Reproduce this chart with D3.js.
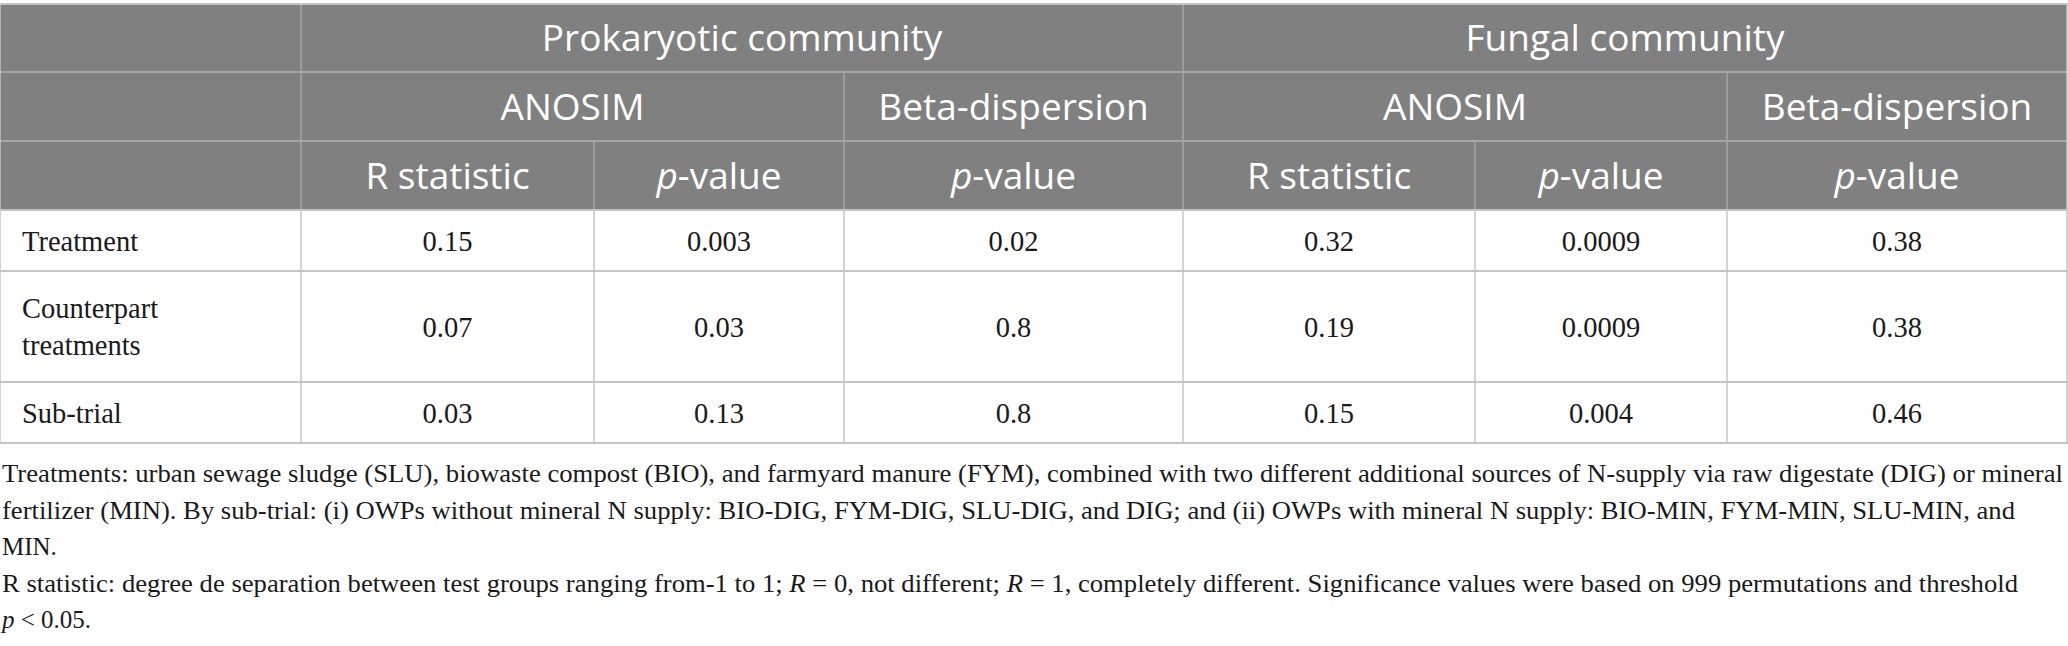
<!DOCTYPE html>
<html>
<head>
<meta charset="utf-8">
<title>ANOSIM and beta-dispersion table</title>
<script src="https://d3js.org/d3.v7.min.js"></script>
<style>
    body { margin: 0; background: #fff; }
    .head { font-family: "Open Sans", sans-serif; fill: #fff; font-size: 37px; }
    .cell { font-family: "Liberation Serif", serif; fill: #1a1a1a; font-size: 28.5px; }
    .note { font-family: "Liberation Serif", serif; fill: #1a1a1a; font-size: 25px; }
</style>
</head>
<body>
<div id="chart"></div>
<script>
    // Table content
    const groups = ["Prokaryotic community", "Fungal community"];
    const methods = ["ANOSIM", "Beta-dispersion", "ANOSIM", "Beta-dispersion"];
    const columns = ["R statistic", "p-value", "p-value", "R statistic", "p-value", "p-value"];
    const rowLabels = [["Treatment"], ["Counterpart", "treatments"], ["Sub-trial"]];
    const prokR = ["0.15", "0.07", "0.03"];
    const prokAnosimP = ["0.003", "0.03", "0.13"];
    const prokBetaP = ["0.02", "0.8", "0.8"];
    const fungR = ["0.32", "0.19", "0.15"];
    const fungAnosimP = ["0.0009", "0.0009", "0.004"];
    const fungBetaP = ["0.38", "0.38", "0.46"];
    const notes = [
        [["Treatments: urban sewage sludge (SLU), biowaste compost (BIO), and farmyard manure (FYM), combined with two different additional sources of N-supply via raw digestate (DIG) or mineral", false]],
        [["fertilizer (MIN). By sub-trial: (i) OWPs without mineral N supply: BIO-DIG, FYM-DIG, SLU-DIG, and DIG; and (ii) OWPs with mineral N supply: BIO-MIN, FYM-MIN, SLU-MIN, and", false]],
        [["MIN.", false]],
        [["R statistic: degree de separation between test groups ranging from-1 to 1; ", false], ["R", true], [" = 0, not different; ", false], ["R", true], [" = 1, completely different. Significance values were based on 999 permutations and threshold", false]],
        [["p", true], [" < 0.05.", false]]
    ];

    const values = [prokR, prokAnosimP, prokBetaP, fungR, fungAnosimP, fungBetaP];

    // Layout
    const W = 2068, H = 646;
    const colEdges = [0, 301, 594, 844, 1183, 1475, 1727, 2067];
    const rowEdges = [4, 72, 141, 210, 271, 382, 443];
    const noteLengths = [2061, 2013, null, 2016, null];

    const x = d3.scaleOrdinal().domain(d3.range(colEdges.length)).range(colEdges);
    const y = d3.scaleOrdinal().domain(d3.range(rowEdges.length)).range(rowEdges);
    const noteY = d3.scaleLinear().domain([0, 1]).range([482, 518.5]);

    const svg = d3.select("#chart").append("svg")
        .attr("width", W).attr("height", H);

    // Header background
    svg.append("rect")
        .attr("x", x(0)).attr("y", y(0))
        .attr("width", x(7) - x(0)).attr("height", y(3) - y(0))
        .attr("fill", "#808080");

    // Header lines
    const headV = [[1, 0, 3], [4, 0, 3], [2, 2, 3], [3, 1, 3], [5, 2, 3], [6, 1, 3]];
    svg.selectAll(".hv").data(headV).enter().append("line")
        .attr("x1", d => x(d[0])).attr("x2", d => x(d[0]))
        .attr("y1", d => y(d[1])).attr("y2", d => y(d[2]))
        .attr("stroke", "#a6a6a6").attr("stroke-width", 1.5);
    svg.selectAll(".hh").data([1, 2]).enter().append("line")
        .attr("x1", x(0)).attr("x2", x(7))
        .attr("y1", d => y(d)).attr("y2", d => y(d))
        .attr("stroke", "#a6a6a6").attr("stroke-width", 2);

    // Body lines
    svg.selectAll(".bv").data(d3.range(8)).enter().append("line")
        .attr("x1", d => x(d)).attr("x2", d => x(d))
        .attr("y1", y(3)).attr("y2", y(6))
        .attr("stroke", "#c4c4c4").attr("stroke-width", 1.5);
    svg.selectAll(".bh").data([0, 3, 4, 5, 6]).enter().append("line")
        .attr("x1", x(0) - 1).attr("x2", x(7) + 1)
        .attr("y1", d => y(d)).attr("y2", d => y(d))
        .attr("stroke", "#c4c4c4").attr("stroke-width", 2);
    svg.selectAll(".ov").data([0, 7]).enter().append("line")
        .attr("x1", d => x(d)).attr("x2", d => x(d))
        .attr("y1", y(0)).attr("y2", y(3))
        .attr("stroke", "#c4c4c4").attr("stroke-width", 1.5);

    const mid = (a, b) => (a + b) / 2;

    // Header texts
    svg.selectAll(".grp").data(groups).enter().append("text")
        .attr("class", "head").attr("text-anchor", "middle")
        .attr("x", (d, i) => mid(x(1 + i * 3), x(4 + i * 3)))
        .attr("y", mid(y(0), y(1)) + 13)
        .text(d => d);

    const methodSpan = [[1, 3], [3, 4], [4, 6], [6, 7]];
    svg.selectAll(".meth").data(methods).enter().append("text")
        .attr("class", "head").attr("text-anchor", "middle")
        .attr("x", (d, i) => mid(x(methodSpan[i][0]), x(methodSpan[i][1])))
        .attr("y", mid(y(1), y(2)) + 13)
        .text(d => d);

    const colText = svg.selectAll(".col").data(columns).enter().append("text")
        .attr("class", "head").attr("text-anchor", "middle")
        .attr("x", (d, i) => mid(x(i + 1), x(i + 2)))
        .attr("y", mid(y(2), y(3)) + 13);
    colText.each(function(d) {
        const t = d3.select(this);
        if (d.startsWith("p-")) {
            t.append("tspan").attr("font-style", "italic").text("p");
            t.append("tspan").text(d.slice(1));
        } else {
            t.text(d);
        }
    });

    // Row labels
    rowLabels.forEach((lines, r) => {
        const cy = mid(y(r + 3), y(r + 4));
        const t = svg.append("text").attr("class", "cell").attr("x", 22);
        lines.forEach((s, k) => {
            t.append("tspan").attr("x", 22)
                .attr("y", cy + 10 + (k - (lines.length - 1) / 2) * 37)
                .text(s);
        });
    });

    // Values
    values.forEach((col, c) => {
        svg.selectAll(".v" + c).data(col).enter().append("text")
            .attr("class", "cell").attr("text-anchor", "middle")
            .attr("x", mid(x(c + 1), x(c + 2)))
            .attr("y", (d, r) => mid(y(r + 3), y(r + 4)) + 10)
            .text(d => d);
    });

    // Footnotes
    notes.forEach((parts, i) => {
        const t = svg.append("text").attr("class", "note")
            .attr("x", 2).attr("y", noteY(i));
        if (noteLengths[i]) t.attr("textLength", noteLengths[i]).attr("lengthAdjust", "spacingAndGlyphs");
        parts.forEach(p => {
            const s = t.append("tspan").text(p[0]);
            if (p[1]) s.attr("font-style", "italic");
        });
    });
</script>
</body>
</html>
